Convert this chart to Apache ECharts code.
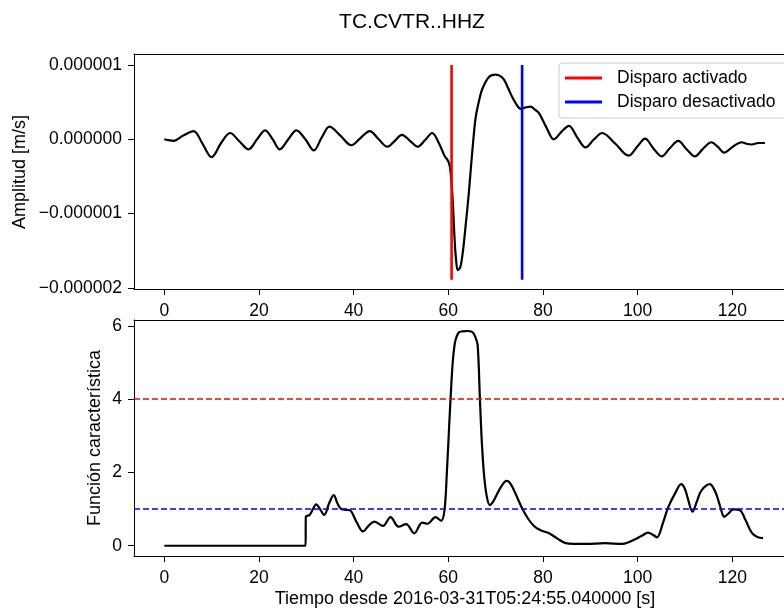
<!DOCTYPE html>
<html>
<head>
<meta charset="utf-8">
<script src="https://cdn.jsdelivr.net/npm/echarts@6/dist/echarts.min.js"></script>
<style>
html,body{margin:0;padding:0;background:#fff;}
#chart{width:784px;height:611px;}
</style>
</head>
<body>
<div id="chart"></div>
<script>
// ---- Data ----
// Top panel: waveform (time in s, amplitude in micro m/s)
const waveTime = [0,2.0,4.0,6.2,8.0,10.0,12.0,13.9,15.9,17.8,19.6,21.3,22.9,24.4,26.2,27.9,29.8,31.6,33.3,34.9,37.2,39.5,41.5,43.4,45.3,47.1,48.7,50.2,51.9,53.5,55.1,56.6,58.0,59.2,60.1,60.5,60.9,61.3,61.6,62.0,62.4,62.7,63.2,63.7,64.3,64.8,65.3,65.8,66.5,67.2,68.6,70.0,71.0,71.8,72.7,73.5,74.4,75.3,76.4,77.4,78.3,79.2,80.8,82.3,83.9,85.5,87.2,89.0,90.8,92.5,95.3,98.1,99.9,101.6,103.3,105.1,106.8,108.6,110.3,112.1,113.8,115.6,116.9,118.3,120.1,122.0,123.0,124.1,125.5,126.9];
const waveMicro = [0,-0.02,0.05,0.11,-0.05,-0.24,-0.05,0.085,-0.03,-0.135,0.0,0.12,0.0,-0.135,0.0,0.12,0.0,-0.15,0.03,0.17,0.05,-0.08,0.02,0.11,0.0,-0.10,-0.02,0.06,-0.02,-0.10,-0.01,0.085,-0.05,-0.22,-0.31,-0.45,-0.78,-1.30,-1.59,-1.76,-1.74,-1.68,-1.45,-1.14,-0.75,-0.37,0.0,0.30,0.52,0.68,0.84,0.87,0.85,0.80,0.68,0.57,0.47,0.41,0.43,0.44,0.40,0.35,0.15,0.0,0.10,0.18,0.03,-0.11,0.0,0.085,-0.06,-0.22,-0.10,0.01,-0.12,-0.23,-0.12,-0.02,-0.13,-0.23,-0.13,-0.04,-0.10,-0.18,-0.10,-0.04,-0.06,-0.07,-0.05,-0.05];
// Trigger on/off times and vertical line extent (micro m/s)
const triggerOnTime = 60.7;
const triggerOffTime = 75.6;
const triggerLineRangeMicro = [-1.89, 1.0];

// Bottom panel: characteristic function
const cftTime = [0,29.85,29.9,30.7,31.4,32.1,33.0,33.8,34.8,35.8,36.6,37.4,38.3,39.2,40.6,42.0,43.2,44.4,46.2,47.8,49.5,51.1,52.8,54.5,55.6,57.3,58.5,59.2,59.7,60.2,60.6,61.0,61.5,62.2,63.0,64.0,65.1,65.7,66.2,66.7,67.1,67.6,68.2,68.8,69.3,70.0,71.2,72.3,73.0,73.9,74.8,75.6,76.8,78.1,79.5,81.3,83.0,84.8,86.5,89.0,93.2,96.7,98.2,99.5,101.0,102.2,103.2,104.1,105.3,106.5,108.0,109.2,110.0,110.6,111.6,112.5,113.5,115.3,116.0,116.7,117.5,118.3,119.2,120.2,121.6,122.8,124.1,125.3,126.5];
const cftValue = [0,0,0.79,0.84,1.0,1.13,0.98,0.84,1.15,1.38,1.15,1.0,0.98,0.97,0.65,0.39,0.55,0.66,0.54,0.78,0.52,0.59,0.34,0.63,0.60,0.78,0.68,0.97,2.0,3.3,4.3,5.1,5.6,5.82,5.85,5.86,5.83,5.70,5.48,3.95,2.8,1.87,1.3,1.11,1.17,1.33,1.62,1.77,1.72,1.51,1.25,1.02,0.75,0.54,0.42,0.34,0.2,0.07,0.05,0.05,0.07,0.05,0.10,0.18,0.28,0.36,0.30,0.23,0.6,1.06,1.45,1.68,1.55,1.29,0.93,1.2,1.51,1.68,1.58,1.38,1.05,0.79,0.88,0.99,0.97,0.7,0.36,0.24,0.21];
const thresholdOn = 4;
const thresholdOff = 1;

// Ticks
const xTicks = [0,20,40,60,80,100,120];
const ampTicks = [-2e-6,-1e-6,0,1e-6];
const cftTicks = [0,2,4,6];

// Text
const titleText = 'TC.CVTR..HHZ';
const legendOn = 'Disparo activado';
const legendOff = 'Disparo desactivado';
const xLabel = 'Tiempo desde 2016-03-31T05:24:55.040000 [s]';
const yLabelTop = 'Amplitud [m/s]';
const yLabelBottom = 'Función característica';

// ---- Build ----
const FONT = '"Liberation Sans", Arial, Helvetica, sans-serif';
const FS = 17.5;
const waveData = waveTime.map((t, i) => [t, waveMicro[i] * 1e-6]);
const cftData = cftTime.map((t, i) => [t, cftValue[i]]);
const onLine = triggerLineRangeMicro.map(v => [triggerOnTime, v * 1e-6]);
const offLine = triggerLineRangeMicro.map(v => [triggerOffTime, v * 1e-6]);

function fmtAmp(v) {
  if (Math.abs(v) < 1e-12) return '0.000000';
  return v.toFixed(6).replace('-', '\u2212');
}

const GRID_LEFT = 134, GRID_W = 650;
const xMin = -6.4, xMax = 130.93;
const lineCol = '#000';
function xAxisCfg(gi) {
  return {
    type: 'value', gridIndex: gi, min: xMin, max: xMax, position: 'bottom',
    axisLine: { show: true, onZero: false, lineStyle: { color: lineCol, width: 1 } },
    splitLine: { show: false },
    axisTick: { show: true, length: 6, inside: false, customValues: xTicks, lineStyle: { color: lineCol, width: 1 } },
    axisLabel: { show: true, customValues: xTicks, margin: 13, color: '#000', fontSize: FS, fontFamily: FONT, formatter: v => String(Math.round(v)) }
  };
}
function xTopCfg(gi) {
  return {
    type: 'value', gridIndex: gi, min: xMin, max: xMax, position: 'top',
    axisLine: { show: true, onZero: false, lineStyle: { color: lineCol, width: 1 } },
    splitLine: { show: false }, axisTick: { show: false }, axisLabel: { show: false }
  };
}

const option = {
  animation: false,
  backgroundColor: '#fff',
  title: {
    text: titleText, left: 407, top: 7, textAlign: 'center',
    textStyle: { fontFamily: FONT, fontSize: 21, fontWeight: 'normal', color: '#000' }
  },
  grid: [
    { left: GRID_LEFT, top: 54, width: GRID_W, height: 235, show: false },
    { left: GRID_LEFT, top: 320, width: GRID_W, height: 236, show: false }
  ],
  xAxis: [xAxisCfg(0), xAxisCfg(1), xTopCfg(0), xTopCfg(1)],
  yAxis: [
    {
      type: 'value', gridIndex: 0, min: -2.015e-6, max: 1.148e-6,
      axisLine: { show: true, onZero: false, lineStyle: { color: lineCol, width: 1 } }, splitLine: { show: false },
      axisTick: { show: true, length: 6, customValues: ampTicks, lineStyle: { color: lineCol } },
      axisLabel: { customValues: ampTicks, margin: 12, color: '#000', fontSize: FS, fontFamily: FONT, formatter: fmtAmp }
    },
    {
      type: 'value', gridIndex: 1, min: -0.28, max: 6.16,
      axisLine: { show: true, onZero: false, lineStyle: { color: lineCol, width: 1 } }, splitLine: { show: false },
      axisTick: { show: true, length: 6, customValues: cftTicks, lineStyle: { color: lineCol } },
      axisLabel: { customValues: cftTicks, margin: 12, color: '#000', fontSize: FS, fontFamily: FONT, formatter: v => String(Math.round(v)) }
    }
  ],
  legend: {
    data: [legendOn, legendOff],
    orient: 'vertical', left: 559, top: 63,
    selectedMode: false,
    icon: 'rect', itemWidth: 37, itemHeight: 3, itemGap: 6,
    padding: [6, 12, 7, 6],
    backgroundColor: 'rgba(255,255,255,0.85)',
    borderColor: '#cccccc', borderWidth: 1, borderRadius: 3,
    textStyle: { fontFamily: FONT, fontSize: FS, color: '#000', lineHeight: 18, padding: [0, 0, 0, 10] }
  },
  series: [
    {
      name: 'wave', type: 'line', xAxisIndex: 0, yAxisIndex: 0, data: waveData,
      smooth: 0.35, showSymbol: false, symbol: 'none', silent: true,
      lineStyle: { color: '#000', width: 2.2 }
    },
    {
      name: legendOn, type: 'line', xAxisIndex: 0, yAxisIndex: 0, data: onLine,
      showSymbol: false, symbol: 'none', silent: true,
      color: '#ff0000', lineStyle: { color: '#ff0000', width: 2.6 }, itemStyle: { color: '#ff0000' }
    },
    {
      name: legendOff, type: 'line', xAxisIndex: 0, yAxisIndex: 0, data: offLine,
      showSymbol: false, symbol: 'none', silent: true,
      color: '#0000ff', lineStyle: { color: '#0000ff', width: 2.6 }, itemStyle: { color: '#0000ff' }
    },
    {
      name: 'cft', type: 'line', xAxisIndex: 1, yAxisIndex: 1, data: cftData,
      smooth: 0.35, showSymbol: false, symbol: 'none', silent: true,
      lineStyle: { color: '#000', width: 2.2 },
      markLine: {
        silent: true, symbol: ['none', 'none'], label: { show: false },
        data: [
          { yAxis: thresholdOn, lineStyle: { color: '#ff0000', type: [6, 3], width: 1.5 } },
          { yAxis: thresholdOff, lineStyle: { color: '#0000ff', type: [6, 3], width: 1.5 } }
        ]
      }
    }
  ],
  graphic: [
    { type: 'text', x: 20, y: 172, rotation: Math.PI / 2,
      style: { text: yLabelTop, fontFamily: FONT, fontSize: 18, fill: '#000', textAlign: 'center', textVerticalAlign: 'middle' } },
    { type: 'text', x: 95, y: 438, rotation: Math.PI / 2,
      style: { text: yLabelBottom, fontFamily: FONT, fontSize: 18, fill: '#000', textAlign: 'center', textVerticalAlign: 'middle' } },
    { type: 'text', x: 465, y: 599,
      style: { text: xLabel, fontFamily: FONT, fontSize: 18, fill: '#000', textAlign: 'center', textVerticalAlign: 'middle' } }
  ]
};

const chart = echarts.init(document.getElementById('chart'), null, { renderer: 'canvas' });
chart.setOption(option);
</script>
</body>
</html>
